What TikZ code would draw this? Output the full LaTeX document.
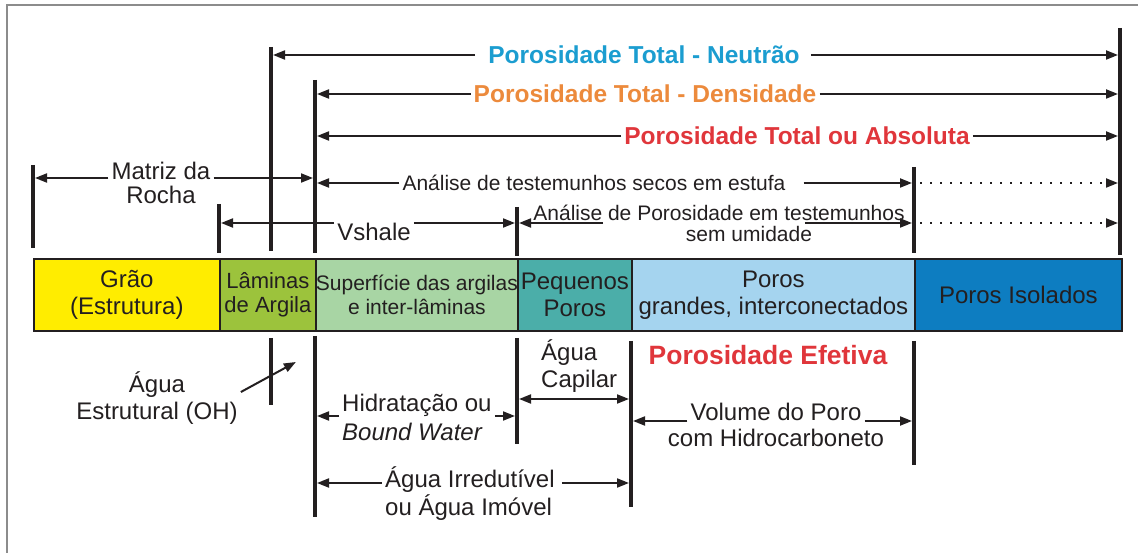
\documentclass[tikz,border=0pt]{standalone}
\usepackage{fontspec}
\setmainfont{Liberation Sans}
\usetikzlibrary{arrows.meta}

\definecolor{ink}{HTML}{231F20}
\definecolor{frameC}{HTML}{8C8C8C}
\definecolor{neuC}{HTML}{1B9DD0}
\definecolor{denC}{HTML}{EC8A3C}
\definecolor{absC}{HTML}{E0363B}
\definecolor{graoC}{HTML}{FFED00}
\definecolor{lamC}{HTML}{9CC33C}
\definecolor{supC}{HTML}{A8D5A4}
\definecolor{pqC}{HTML}{4BAEA9}
\definecolor{grdC}{HTML}{A5D4EF}
\definecolor{isoC}{HTML}{0D7DC1}

\tikzset{
  lbl/.style={font=\fontsize{24}{27.5}\selectfont, text=ink, align=center, inner ysep=0pt, inner xsep=3pt},
  sml/.style={lbl, font=\fontsize{21}{23.5}\selectfont},
  ttl/.style={font=\bfseries\fontsize{24.5}{28}\selectfont, inner ysep=0pt, inner xsep=3pt},
  cell/.style={lbl, draw=ink, line width=1.8pt, minimum height=72pt, inner sep=0pt, anchor=west},
  tick/.style={draw=ink, line width=3.8pt},
  arr/.style={draw=ink, line width=2pt, ->, shorten >=2pt},
  darr/.style={arr, <->, shorten <=2pt},
  dotarr/.style={arr, dash pattern=on 2pt off 8pt},
}

\begin{document}
\begin{tikzpicture}[x=1pt, y=-1pt, >={Triangle[length=12pt,width=9pt]}]
	\useasboundingbox (0,0) rectangle (1138,553);
	\draw[frameC, line width=1.5pt] (7,553) -- (7,5) -- (1138,5);

	\node[cell, fill=graoC, minimum width=186pt] (grao) at (33,295) {Grão\\(Estrutura)};
	\node[cell, fill=lamC, minimum width=96pt, font=\fontsize{22}{24}\selectfont] (lam) at (219,295) {Lâminas\\de Argila};
	\node[cell, fill=supC, minimum width=202pt, font=\fontsize{21}{23.5}\selectfont] (sup) at (315,295) {Superfície das argilas\\e inter-lâminas};
	\node[cell, fill=pqC, minimum width=114pt] (pq) at (517,295) {Pequenos\\Poros};
	\node[cell, fill=grdC, minimum width=283pt] (grd) at (631,295) {Poros\\grandes, interconectados};
	\node[cell, fill=isoC, minimum width=207pt] (iso) at (914,295) {Poros Isolados};

	\coordinate (tM) at (33,165);
	\coordinate (tV) at (219,204);
	\coordinate (tN) at (271,47);
	\coordinate (tD) at (315,80);
	\coordinate (tS) at (517,207);
	\coordinate (tE) at (914,167);
	\coordinate (tR) at (1120,28);
	\coordinate (bL) at (271,338);
	\coordinate (bD) at (315,336);
	\coordinate (bS) at (517,338);
	\coordinate (bC) at (631,341);
	\coordinate (bE) at (914,341);

	\draw[tick] (tM) -- ++(0,83);
	\draw[tick] (tV) -- ++(0,49);
	\draw[tick] (tN) -- ++(0,204);
	\draw[tick] (tD) -- ++(0,173);
	\draw[tick] (tS) -- ++(0,49);
	\draw[tick] (tE) -- ++(0,86);
	\draw[tick] (tR) -- ++(0,227);
	\draw[tick] (bL) -- ++(0,67);
	\draw[tick] (bD) -- ++(0,181);
	\draw[tick] (bS) -- ++(0,106);
	\draw[tick] (bC) -- ++(0,166);
	\draw[tick] (bE) -- ++(0,124);

	\node[ttl, text=neuC] (neu) at (644,55) {Porosidade Total - Neutrão};
	\node[ttl, text=denC] (den) at (645,94) {Porosidade Total - Densidade};
	\node[ttl, text=absC] (abso) at (797,136) {Porosidade Total ou Absoluta};
	\node[lbl] (mat1) at (161,171) {Matriz da};
	\node[lbl] (mat2) at (161,195) {Rocha};
	\node[sml] (sec) at (594,183) {Análise de testemunhos secos em estufa};
	\node[lbl] (vsh) at (374,232) {Vshale};
	\node[sml] (por1) at (719,213) {Análise de Porosidade em testemunhos};
	\node[sml] (por2) at (749,234) {sem umidade};

	\node[lbl] (est) at (157,398) {Água\\Estrutural (OH)};
	\node[lbl, anchor=west] (hyd1) at (339,405) {Hidratação ou};
	\node[lbl, anchor=west] (hyd2) at (339,432) {\textit{Bound Water}};
	\node[lbl, anchor=west, align=left] (cap) at (538,366) {Água\\Capilar};
	\node[ttl, text=absC, font=\bfseries\fontsize{26.5}{30}\selectfont] (efe) at (768,355) {Porosidade Efetiva};
	\node[lbl] (vol1) at (776,412) {Volume do Poro};
	\node[lbl] (vol2) at (776,438) {com Hidrocarboneto};
	\node[lbl, anchor=west] (irr1) at (382,480) {Água Irredutível};
	\node[lbl, anchor=west] (irr2) at (382,508) {ou Água Imóvel};

	\coordinate (neuL) at ([xshift=-10pt]neu.west);
	\coordinate (neuR) at ([xshift=8pt]neu.east);
	\coordinate (matL) at ([yshift=-7pt]mat1.west);
	\coordinate (matR) at ([yshift=-7pt]mat1.east);
	\coordinate (secR) at ([xshift=15pt]sec.east);
	\coordinate (vshL) at ([yshift=9pt]vsh.west);
	\coordinate (vshR) at ([yshift=9pt]vsh.east);
	\coordinate (porL) at ([xshift=73pt,yshift=-10pt]por1.west);
	\coordinate (porR) at ([xshift=-103pt,yshift=-10pt]por1.east);
	\coordinate (estA) at ([yshift=6pt]est.east);
	\coordinate (hydL) at ([yshift=-11pt]hyd1.west);
	\coordinate (hydR) at ([yshift=-11pt]hyd1.east);
	\coordinate (capY) at ([yshift=-33pt]cap.west);
	\coordinate (volL) at ([yshift=-9pt]vol1.west);
	\coordinate (volR) at ([yshift=-9pt]vol1.east);
	\coordinate (irrL) at ([yshift=-3pt]irr1.west);
	\coordinate (irrR) at ([xshift=4pt,yshift=-3pt]irr1.east);

	\draw[arr] (neuL) -- (neuL -| tN);
	\draw[arr] (neuR) -- (neuR -| tR);
	\draw[arr] (den.west) -- (den.west -| tD);
	\draw[arr] (den.east) -- (den.east -| tR);
	\draw[arr] (abso.west) -- (abso.west -| tD);
	\draw[arr] (abso.east) -- (abso.east -| tR);
	\draw[arr] (matL) -- (matL -| tM);
	\draw[arr] (matR) -- (matR -| tD);
	\draw[arr] (sec.west) -- (sec.west -| tD);
	\draw[arr] (secR) -- (secR -| tE);
	\draw[dotarr, shorten <=6pt] (secR -| tE) -- (secR -| tR);
	\draw[arr] (vshL) -- (vshL -| tV);
	\draw[arr] (vshR) -- (vshR -| tS);
	\draw[arr] (porL) -- (porL -| tS);
	\draw[arr] (porR) -- (porR -| tE);
	\draw[dotarr, shorten <=6pt] (porR -| tE) -- (porR -| tR);

	\draw[arr, shorten >=0pt] (estA) -- ++(55,-30);
	\draw[arr] (hydL) -- (hydL -| bD);
	\draw[arr] (hydR) -- (hydR -| bS);
	\draw[darr] (capY -| bS) -- (capY -| bC);
	\draw[arr] (volL) -- (volL -| bC);
	\draw[arr] (volR) -- (volR -| bE);
	\draw[arr] (irrL) -- (irrL -| bD);
	\draw[arr] (irrR) -- (irrR -| bC);
\end{tikzpicture}
\end{document}
